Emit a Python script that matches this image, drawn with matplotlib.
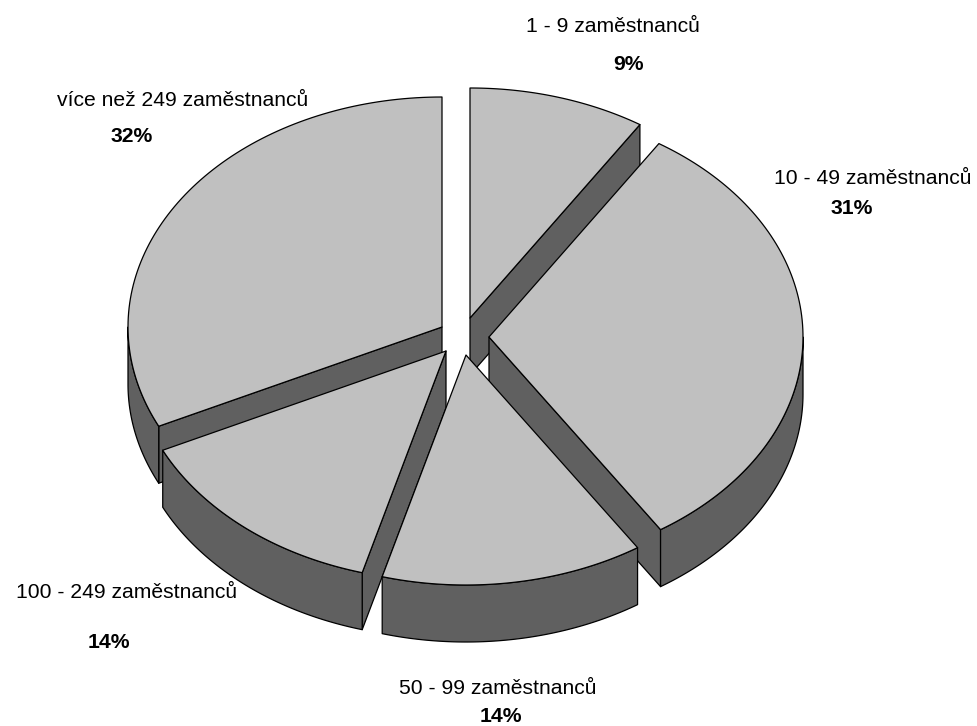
import numpy as np
import matplotlib
matplotlib.use('Agg')
import matplotlib.pyplot as plt

plt.rcParams['font.family'] = ['Liberation Sans', 'DejaVu Sans']

# slices, clockwise from the top
categories = ['1 - 9 zaměstnanců', '10 - 49 zaměstnanců', '50 - 99 zaměstnanců',
              '100 - 249 zaměstnanců', 'více než 249 zaměstnanců']
# shares, the printed labels are rounded by the source
shares = [9.1, 31.7, 13.5, 13.6, 32.1]
share_labels = ['9%', '31%', '14%', '14%', '32%']

# layout in pixels
apex_x = [470, 489, 466, 446, 442]
apex_y = [318, 337, 355, 351, 327]
label_x = [613, 873, 498, 127, 183]
label_y = [27, 179, 688, 592, 101]
pct_x = [629, 852, 501, 109, 132]
pct_y = [64, 209, 717, 642, 137]
RX, RY, DEPTH = 314, 230, 57
TOP_COLOR = '#C0C0C0'
WALL_COLOR = '#606060'
DRAW_ORDER = [0, 4, 1, 3, 2]  # back to front

fig = plt.figure(figsize=(9.77, 7.26), dpi=100)
ax = fig.add_axes([0, 0, 1, 1])
ax.set_xlim(0, 977)
ax.set_ylim(726, 0)
ax.axis('off')

edges = np.cumsum([0] + shares) / sum(shares) * 2 * np.pi


def arc(i, t0, t1):
    t = np.linspace(t0, t1, 100)
    return apex_x[i] + RX * np.sin(t), apex_y[i] - RY * np.cos(t)


def poly(xs, ys, color):
    ax.fill(xs, ys, facecolor=color, edgecolor='black', linewidth=0.9, joinstyle='round')


def radial_wall(i, ex, ey):
    poly([apex_x[i], ex, ex, apex_x[i]],
         [apex_y[i], ey, ey + DEPTH, apex_y[i] + DEPTH], WALL_COLOR)


for i in DRAW_ORDER:
    t0, t1 = edges[i], edges[i + 1]
    x, y = arc(i, t0, t1)
    # radial walls, only the ones facing the viewer
    if np.sin(t0) < 0:
        radial_wall(i, x[0], y[0])
    if np.sin(t1) > 0:
        radial_wall(i, x[-1], y[-1])
    # outer wall, only the front half of the rim shows
    lo, hi = max(t0, np.pi / 2), min(t1, 3 * np.pi / 2)
    if lo < hi:
        wx, wy = arc(i, lo, hi)
        poly(np.r_[wx, wx[::-1]], np.r_[wy, wy[::-1] + DEPTH], WALL_COLOR)
    poly(np.r_[apex_x[i], x], np.r_[apex_y[i], y], TOP_COLOR)

for i in range(len(categories)):
    ax.text(label_x[i], label_y[i], categories[i], ha='center', va='center', fontsize=15.2)
    ax.text(pct_x[i], pct_y[i], share_labels[i], ha='center', va='center', fontsize=15.2,
            fontweight='bold')

fig.savefig('out.png', dpi=100)
plt.close(fig)
